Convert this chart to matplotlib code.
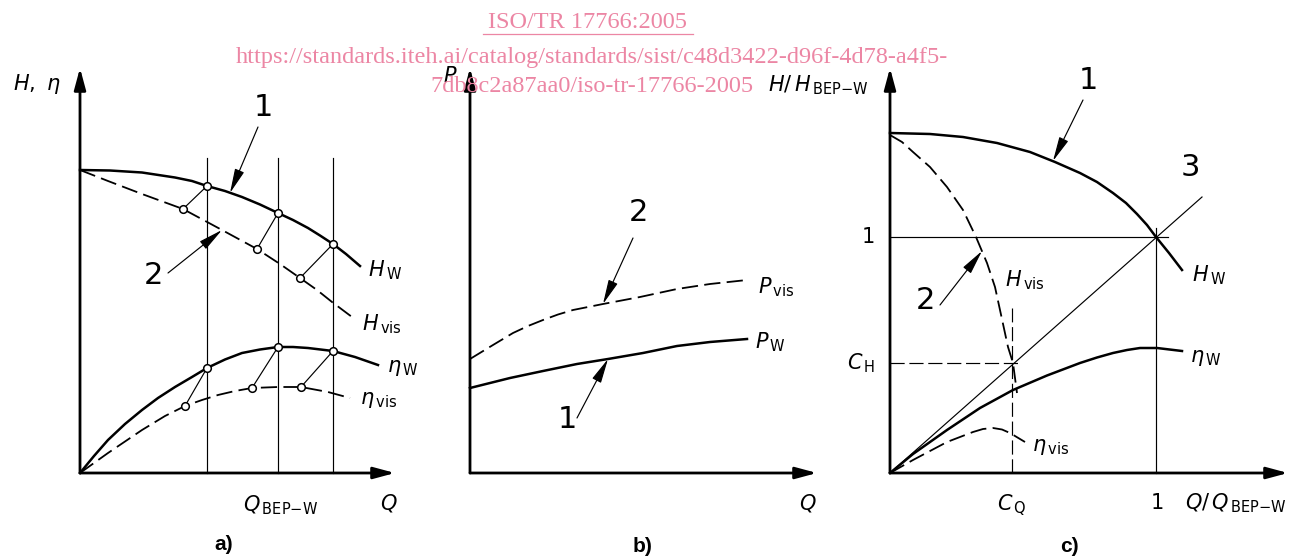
import matplotlib.pyplot as plt
from matplotlib.lines import Line2D

plt.rcParams['font.family'] = 'DejaVu Sans'
plt.rcParams['mathtext.fontset'] = 'custom'
plt.rcParams['mathtext.rm'] = 'DejaVu Sans'
plt.rcParams['mathtext.it'] = 'DejaVu Sans:italic'

# ---- panel a): H and eta vs Q (drawing units, origin at axes corner)
a_q_hw = [0, 0.3, 0.62, 0.95, 1.12, 1.27, 1.45, 1.62, 1.80, 1.98, 2.13, 2.28, 2.40, 2.53, 2.66, 2.80]
a_hw = [3.03, 3.025, 3.005, 2.955, 2.92, 2.87, 2.82, 2.76, 2.685, 2.60, 2.53, 2.45, 2.375, 2.29, 2.19, 2.07]
a_q_hvis = [0, 0.28, 0.62, 1.03, 1.42, 1.77, 2.00, 2.20, 2.37, 2.52, 2.72]
a_hvis = [3.03, 2.92, 2.79, 2.64, 2.43, 2.24, 2.09, 1.95, 1.83, 1.71, 1.56]
a_q_etaw = [0, 0.14, 0.28, 0.45, 0.62, 0.78, 0.95, 1.12, 1.27, 1.45, 1.62, 1.80, 1.98, 2.13, 2.28, 2.53, 2.75, 2.98]
a_etaw = [0, 0.17, 0.33, 0.49, 0.63, 0.75, 0.86, 0.96, 1.05, 1.135, 1.20, 1.235, 1.26, 1.26, 1.25, 1.22, 1.16, 1.08]
a_q_etavis = [0, 0.28, 0.62, 0.85, 1.05, 1.22, 1.38, 1.55, 1.72, 1.98, 2.21, 2.48, 2.70]
a_etavis = [0, 0.20, 0.43, 0.57, 0.67, 0.73, 0.78, 0.82, 0.85, 0.86, 0.86, 0.81, 0.75]
a_q_ref = [1.27, 1.98, 2.53]          # three water duty points (middle = BEP)
a_hw_ref = [2.87, 2.60, 2.29]
a_etaw_ref = [1.05, 1.26, 1.22]
a_q_vis = [1.03, 1.77, 2.20]          # corrected viscous points
a_hvis_ref = [2.64, 2.24, 1.95]
a_q_vis_eta = [1.05, 1.72, 2.21]
a_etavis_ref = [0.67, 0.85, 0.86]

# ---- panel b): P vs Q
b_q_pw = [0, 0.40, 0.73, 1.07, 1.38, 1.73, 2.07, 2.40, 2.77]
b_pw = [0.85, 0.95, 1.02, 1.09, 1.14, 1.20, 1.27, 1.31, 1.34]
b_q_pvis = [0, 0.23, 0.43, 0.58, 0.73, 0.88, 1.03, 1.33, 1.70, 2.07, 2.40, 2.77]
b_pvis = [1.14, 1.28, 1.40, 1.47, 1.53, 1.585, 1.63, 1.69, 1.76, 1.84, 1.89, 1.93]

# ---- panel c): normalised curves
c_q_hw = [0, 0.40, 0.73, 1.07, 1.40, 1.65, 1.90, 2.07, 2.23, 2.36, 2.47, 2.57, 2.66, 2.79, 2.92]
c_hw = [3.40, 3.39, 3.36, 3.30, 3.21, 3.11, 3.00, 2.91, 2.80, 2.70, 2.59, 2.48, 2.36, 2.20, 2.03]
c_q_hvis = [0, 0.12, 0.23, 0.40, 0.57, 0.73, 0.86, 0.97, 1.05, 1.10, 1.18, 1.23, 1.27]
c_hvis = [3.38, 3.31, 3.21, 3.06, 2.86, 2.63, 2.36, 2.10, 1.86, 1.63, 1.26, 1.10, 0.80]
c_q_etaw = [0, 0.23, 0.57, 0.90, 1.23, 1.57, 1.90, 2.07, 2.23, 2.37, 2.50, 2.67, 2.92]
c_etaw = [0, 0.19, 0.43, 0.65, 0.83, 0.975, 1.10, 1.155, 1.20, 1.23, 1.25, 1.25, 1.22]
c_q_etavis = [0, 0.23, 0.57, 0.83, 0.93, 1.03, 1.12, 1.20, 1.35]
c_etavis = [0, 0.13, 0.31, 0.41, 0.44, 0.45, 0.435, 0.40, 0.31]
c_one_q = 2.66     # Q/Q_BEP-W = 1
c_one_h = 2.36     # H/H_BEP-W = 1
c_q_cq = 1.22      # C_Q
c_h_ch = 1.10      # C_H
c_diag_q = [0, 3.12]
c_diag_h = [0, 2.76]

W, H = 1290, 560
fig = plt.figure(figsize=(12.9, 5.6), dpi=100)

THICK = 1.8
THIN = 0.85
DASH = (0, (9, 3.5))


def panel(x0, x1, ox, oy):
    ax = fig.add_axes([x0 / W, 0, (x1 - x0) / W, 1])
    ax.set_xlim((x0 - ox) / 100, (x1 - ox) / 100)
    ax.set_ylim((oy - H) / 100, oy / 100)
    ax.axis('off')
    return ax


def axis_arrows(ax, xtip, ytip):
    style = '-|>,head_length=1.3,head_width=0.35'
    props = dict(arrowstyle=style, lw=2.0, color='k', shrinkA=0, shrinkB=0)
    ax.annotate('', xy=(xtip, 0), xytext=(0, 0), arrowprops=props)
    ax.annotate('', xy=(0, ytip), xytext=(0, 0), arrowprops=props)


def leader(ax, start, tip):
    props = dict(arrowstyle='-|>,head_length=1.5,head_width=0.3', lw=THIN,
                 color='k', shrinkA=0, shrinkB=0)
    ax.annotate('', xy=tip, xytext=start, arrowprops=props)


def lbl(ax, x, y, s, size=15, ha='left'):
    ax.text(x, y, s, fontsize=size, ha=ha, va='center')


# ================= a)
ax = panel(0, 430, 80, 473)
for q in a_q_ref:
    ax.plot([q, q], [0, 3.15], color='k', lw=THIN)
ax.plot(a_q_hw, a_hw, color='k', lw=THICK)
ax.plot(a_q_hvis, a_hvis, color='k', lw=1.3, ls=DASH)
ax.plot(a_q_etaw, a_etaw, color='k', lw=THICK)
ax.plot(a_q_etavis, a_etavis, color='k', lw=1.3, ls=DASH)
for i in range(3):
    ax.plot([a_q_ref[i], a_q_vis[i]], [a_hw_ref[i], a_hvis_ref[i]], color='k', lw=THIN)
    ax.plot([a_q_ref[i], a_q_vis_eta[i]], [a_etaw_ref[i], a_etavis_ref[i]], color='k', lw=THIN)
mk = dict(ls='none', marker='o', ms=5.5, mfc='white', mec='k', mew=1.1)
ax.plot(a_q_ref, a_hw_ref, **mk)
ax.plot(a_q_ref, a_etaw_ref, **mk)
ax.plot(a_q_vis, a_hvis_ref, **mk)
ax.plot(a_q_vis_eta, a_etavis_ref, **mk)
axis_arrows(ax, 3.15, 4.05)
lbl(ax, -0.67, 3.89, r'$H,\ \eta$')
lbl(ax, 1.83, 3.66, '1', size=22, ha='center')
leader(ax, (1.78, 3.46), (1.50, 2.80))
lbl(ax, 0.73, 1.98, '2', size=22, ha='center')
leader(ax, (0.88, 2.00), (1.42, 2.43))
lbl(ax, 2.88, 2.03, r'$H_{\,\mathrm{W}}$')
lbl(ax, 2.82, 1.49, r'$H_{\,\mathrm{vis}}$')
lbl(ax, 3.07, 1.05, r'$\eta_{\,\mathrm{W}}$')
lbl(ax, 2.80, 0.73, r'$\eta_{\,\mathrm{vis}}$')
lbl(ax, 1.63, -0.32, r'$Q_{\,\mathrm{BEP{-}W}}$')
lbl(ax, 3.00, -0.30, r'$Q$')
ax.text(1.44, -0.72, 'a)', fontsize=15, fontweight='bold', family='Liberation Sans',
        ha='center', va='center')

# ================= b)
ax = panel(430, 840, 470, 473)
ax.plot(b_q_pw, b_pw, color='k', lw=THICK)
ax.plot(b_q_pvis, b_pvis, color='k', lw=1.3, ls=DASH)
axis_arrows(ax, 3.47, 4.05)
lbl(ax, -0.20, 3.97, r'$P$', ha='center')
lbl(ax, 1.68, 2.61, '2', size=22, ha='center')
leader(ax, (1.63, 2.35), (1.33, 1.69))
lbl(ax, 0.97, 0.53, '1', size=22, ha='center')
leader(ax, (1.07, 0.55), (1.38, 1.14))
lbl(ax, 2.88, 1.86, r'$P_{\,\mathrm{vis}}$')
lbl(ax, 2.85, 1.31, r'$P_{\,\mathrm{W}}$')
lbl(ax, 3.38, -0.30, r'$Q$', ha='center')
ax.text(1.73, -0.74, 'b)', fontsize=15, fontweight='bold', family='Liberation Sans',
        ha='center', va='center')

# ================= c)
ax = panel(840, 1290, 890, 473)
ax.plot([0, 2.78], [c_one_h, c_one_h], color='k', lw=THIN)
ax.plot([c_one_q, c_one_q], [0, 2.45], color='k', lw=THIN)
ax.plot(c_diag_q, c_diag_h, color='k', lw=THIN)
ax.plot([c_q_cq, c_q_cq], [0, 1.65], color='k', lw=THIN, ls=(0, (12, 4)))
ax.plot([0, 1.28], [c_h_ch, c_h_ch], color='k', lw=THIN, ls=(0, (12, 4)))
ax.plot(c_q_hw, c_hw, color='k', lw=THICK)
ax.plot(c_q_hvis, c_hvis, color='k', lw=1.3, ls=DASH)
ax.plot(c_q_etaw, c_etaw, color='k', lw=THICK)
ax.plot(c_q_etavis, c_etavis, color='k', lw=1.3, ls=DASH)
axis_arrows(ax, 3.98, 4.05)
lbl(ax, -1.22, 3.88, r'$H/\,H_{\,\mathrm{BEP{-}W}}$')
lbl(ax, -0.15, c_one_h, '1', ha='right')
lbl(ax, -0.15, c_h_ch, r'$C_{\,\mathrm{H}}$', ha='right')
lbl(ax, c_q_cq, -0.32, r'$C_{\,\mathrm{Q}}$', ha='center')
lbl(ax, 2.67, -0.30, '1', ha='center')
lbl(ax, 2.95, -0.30, r'$Q/\,Q_{\,\mathrm{BEP{-}W}}$')
lbl(ax, 1.98, 3.93, '1', size=22, ha='center')
leader(ax, (1.93, 3.73), (1.63, 3.12))
lbl(ax, 3.00, 3.06, '3', size=22, ha='center')
lbl(ax, 3.02, 1.98, r'$H_{\,\mathrm{W}}$')
lbl(ax, 1.15, 1.93, r'$H_{\,\mathrm{vis}}$')
lbl(ax, 0.35, 1.73, '2', size=22, ha='center')
leader(ax, (0.50, 1.68), (0.92, 2.22))
lbl(ax, 3.00, 1.15, r'$\eta_{\,\mathrm{W}}$')
lbl(ax, 1.42, 0.26, r'$\eta_{\,\mathrm{vis}}$')
ax.text(1.79, -0.74, 'c)', fontsize=15, fontweight='bold', family='Liberation Sans',
        ha='center', va='center')

# ---- watermark
pink = '#ec86a4'
wm = dict(fontsize=17.5, color=pink, family='Liberation Serif', ha='center', va='center')
fig.text(588 / W, 1 - 22 / H, 'ISO/TR 17766:2005', **wm)
fig.add_artist(Line2D([483 / W, 693 / W], [1 - 34 / H, 1 - 34 / H], color=pink, lw=0.9))
fig.text(592 / W, 1 - 57 / H,
         'https://standards.iteh.ai/catalog/standards/sist/c48d3422-d96f-4d78-a4f5-', **wm)
fig.text(592 / W, 1 - 87 / H, '7db8c2a87aa0/iso-tr-17766-2005', **wm)

fig.savefig('out.png', dpi=100)
